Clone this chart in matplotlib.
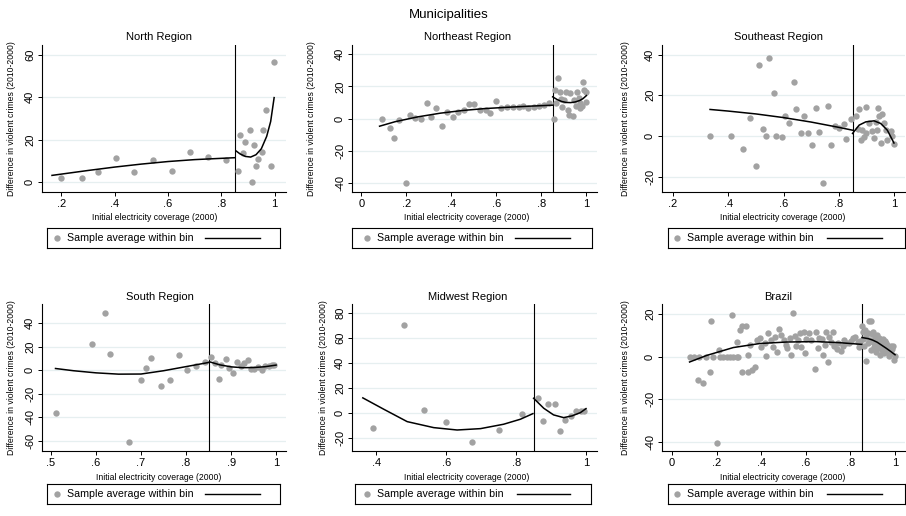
import matplotlib
matplotlib.use("Agg")
import matplotlib.pyplot as plt

plt.rcParams['font.family'] = ['Liberation Sans', 'DejaVu Sans']

W, H = 906, 516
GRAY = '#a2a2a2'
GRID = '#e6eff0'
CUTOFF = 0.85

# ---- bin averages and fitted curves ----
north_x = [0.199, 0.277, 0.338, 0.405, 0.473, 0.543, 0.614, 0.681, 0.749, 0.819,
           0.861, 0.870, 0.883, 0.890, 0.908, 0.916, 0.924, 0.930, 0.939, 0.953, 0.958, 0.969, 0.986, 0.996]
north_y = [2.3, 2.3, 5.0, 11.6, 5.0, 10.5, 5.2, 14.5, 12.0, 10.6,
           5.5, 22.2, 13.6, 19.1, 24.8, 0.0, 17.5, 7.7, 10.9, 14.1, 24.5, 34.2, 7.7, 56.7]
north_fit_lx = [0.165, 0.3, 0.4, 0.5, 0.6, 0.7, 0.8, 0.85]
north_fit_ly = [3.3, 5.6, 7.2, 8.6, 9.8, 10.7, 11.3, 11.6]
north_fit_rx = [0.855, 0.87, 0.89, 0.91, 0.93, 0.95, 0.97, 0.985, 0.998]
north_fit_ry = [14.8, 13.4, 12.2, 11.9, 13.0, 15.8, 21.6, 28.6, 39.8]

ne_x = [0.092, 0.126, 0.147, 0.169, 0.200, 0.215, 0.240, 0.265, 0.292, 0.311, 0.333, 0.359, 0.381, 0.407,
        0.428, 0.455, 0.477, 0.502, 0.529, 0.553, 0.573, 0.599, 0.621, 0.647, 0.673, 0.699, 0.719, 0.741,
        0.766, 0.788, 0.810, 0.833,
        0.855, 0.859, 0.866, 0.873, 0.881, 0.887, 0.892, 0.900, 0.910, 0.917, 0.923, 0.929, 0.939, 0.947,
        0.953, 0.959, 0.965, 0.970, 0.973, 0.981, 0.985, 0.991, 0.996, 1.000]
ne_y = [0, -5.8, -12.1, -1, -40, 1.9, 0.6, 0, 9.4, 1, 6.3, -4.8, 4.2, 1,
        4.2, 5.6, 9, 9, 5.2, 5.2, 3.5, 10.8, 6.7, 7.3, 7.3, 6.9, 7.7, 6.3,
        6.9, 7.7, 8.3, 9.4,
        0, 17.7, 9.5, 25.4, 16.7, 12, 6.9, 11.5, 16.7, 5.2, 2.1, 16, 1.5, 11.5,
        8, 16.7, 12.5, 9.4, 6.3, 7.7, 22.9, 17.7, 10.4, 16.7]
ne_fit_lx = [0.081, 0.15, 0.25, 0.35, 0.45, 0.55, 0.65, 0.75, 0.85]
ne_fit_ly = [-4.8, -2.0, 1.0, 3.3, 5.0, 6.2, 7.0, 7.7, 8.3]
ne_fit_rx = [0.85, 0.87, 0.89, 0.91, 0.93, 0.95, 0.97, 0.985, 1.0]
ne_fit_ry = [13.5, 11.8, 10.6, 10.0, 9.9, 10.3, 11.2, 12.4, 14.3]

se_x = [0.334, 0.410, 0.454, 0.478, 0.499, 0.511, 0.526, 0.535, 0.547, 0.565, 0.574, 0.593, 0.606, 0.619,
        0.637, 0.646, 0.662, 0.676, 0.690, 0.704, 0.716, 0.730, 0.742, 0.760, 0.772, 0.788, 0.802, 0.818,
        0.828, 0.844,
        0.862, 0.868, 0.874, 0.880, 0.886, 0.892, 0.898, 0.900, 0.910, 0.922, 0.928, 0.934, 0.940, 0.944,
        0.946, 0.952, 0.956, 0.964, 0.970, 0.976, 0.988, 0.994, 1.000]
se_y = [0, 0, -6.6, 8.9, -14.8, 34.9, 3.6, 0, 38.5, 20.9, 0, -0.5, 9.9, 6.1,
        26.3, 13.2, 1.6, 9.9, 1.2, -4.3, 13.8, 2, -23.2, 14.6, -4.6, 4.9, 3.9, 5.8,
        -1.6, 8.1,
        9.7, 3.6, 13, -2.1, 3.1, -0.5, 14, 1.5, 6.1, 2.5, -0.8, 6.9, 2.8, 13.5,
        9.7, -3.5, 10.7, 6.1, 3.1, -1.8, 2.5, -0.2, -3.8]
se_fit_lx = [0.334, 0.4, 0.5, 0.6, 0.7, 0.75, 0.8, 0.85]
se_fit_ly = [13.0, 12.2, 10.8, 9.0, 6.8, 5.5, 4.2, 2.8]
se_fit_rx = [0.85, 0.874, 0.898, 0.928, 0.952, 0.976, 1.0]
se_fit_ry = [1.2, 5.3, 6.9, 7.4, 6.1, 2.8, -3.5]

south_x = [0.512, 0.590, 0.621, 0.632, 0.674, 0.699, 0.711, 0.722, 0.745, 0.765, 0.784, 0.802, 0.822, 0.841,
           0.856, 0.864, 0.873, 0.878, 0.888, 0.896, 0.904, 0.913, 0.921, 0.928, 0.937, 0.944, 0.952, 0.959,
           0.969, 0.976, 0.984, 0.991, 0.996]
south_y = [-36.1, 22.2, 48.6, 13.6, -60.8, -8.5, 1.4, 10.2, -13.4, -8.5, 13.1, 0, 3.1, 6.8,
           10.8, 6, -7.1, 4.3, 9.7, 1.7, -2.8, 6.5, 3.7, 6, 8.5, 0.9, 0.9, 2.8,
           0.3, 3.1, 3.7, 4.3, 4.5]
south_fit_lx = [0.51, 0.55, 0.6, 0.65, 0.7, 0.75, 0.8, 0.85]
south_fit_ly = [1.4, -0.5, -2.3, -3.4, -3.3, -0.5, 3.0, 6.5]
south_fit_rx = [0.852, 0.875, 0.9, 0.925, 0.95, 0.975, 1.0]
south_fit_ry = [7.1, 4.5, 2.8, 2.1, 2.2, 2.9, 4.3]

mw_x = [0.390, 0.478, 0.535, 0.599, 0.673, 0.752, 0.817,
        0.862, 0.877, 0.891, 0.910, 0.925, 0.941, 0.958, 0.972, 0.987, 0.995]
mw_y = [-11.8, 70.6, 2.9, -6.7, -22.7, -13.4, -0.8,
        12.3, -6.4, 7.8, 7.8, -14.2, -5.1, -2.1, 1.9, 1.9, 1.9]
mw_fit_lx = [0.361, 0.421, 0.488, 0.564, 0.631, 0.698, 0.764, 0.812, 0.848]
mw_fit_ly = [12.3, 3.2, -6.7, -11.5, -13.4, -12.3, -8.8, -4.8, -0.3]
mw_fit_rx = [0.850, 0.879, 0.907, 0.936, 0.960, 0.984, 1.000]
mw_fit_ry = [12.0, 4.0, -1.3, -3.5, -2.1, 0.5, 3.7]

br_x = [0.079, 0.100, 0.123, 0.119, 0.141, 0.153, 0.171, 0.174, 0.186, 0.200, 0.212, 0.215, 0.230, 0.245,
        0.260, 0.267, 0.275, 0.290, 0.290, 0.297, 0.305, 0.312, 0.316, 0.331, 0.342, 0.342, 0.352, 0.357,
        0.371, 0.383, 0.394, 0.400, 0.416, 0.420, 0.431, 0.446, 0.455, 0.461, 0.471, 0.480, 0.490, 0.501,
        0.510, 0.517, 0.527, 0.535, 0.542, 0.550, 0.557, 0.565, 0.575, 0.580, 0.590, 0.595, 0.602, 0.614,
        0.624, 0.639, 0.646, 0.655, 0.661, 0.673, 0.676, 0.685, 0.691, 0.698, 0.705, 0.713, 0.720, 0.728,
        0.738, 0.743, 0.758, 0.765, 0.772, 0.780, 0.795, 0.802, 0.810, 0.822, 0.832, 0.840, 0.845,
        0.852, 0.855, 0.858, 0.862, 0.866, 0.869, 0.872, 0.877, 0.880, 0.884, 0.887, 0.890, 0.892, 0.895,
        0.899, 0.902, 0.905, 0.908, 0.911, 0.914, 0.917, 0.920, 0.923, 0.926, 0.929, 0.932, 0.935, 0.938,
        0.941, 0.944, 0.947, 0.950, 0.953, 0.956, 0.959, 0.962, 0.965, 0.968, 0.971, 0.974, 0.977, 0.980,
        0.984, 0.988, 0.992, 0.996, 0.999]
br_y = [0, 0, 0, -11, -12.2, 0, -7, 16.6, 0, -40.5, 3.2, 0, 0, 0,
        0, 19.7, 0, 7.1, 0, 0, 12.6, -7.1, 14.5, 14.5, 0.8, -7.1, 5.5, -6.3,
        -4.7, 7.9, 8.7, 4.5, 6.3, 0.5, 11, 7.9, 4.5, 9.5, 2.4, 13.1, 10.3, 7.9,
        5.5, 3.9, 8.7, 1, 20.5, 9.9, 5, 7.9, 11, 4.5, 11.8, 1.5, 8.5, 11,
        7.9, -5.7, 11.8, 4, 9, 8.5, 0.8, 5.5, 11.4, -2.4, 9.5, 6.9, 11.8, 5,
        3.5, 6.5, 2.7, 5, 7.9, 6.3, 6.3, 7.4, 8.7, 9.3, 7, 4.7, 7.5,
        14.5, 11.8, 8.5, 5, 12.5, -2, 9.5, 6.6, 11, 16.9, 8, 16.9, 3, 10.5,
        7, 11.5, 4.5, 9.5, 6, 2, 10, 7.5, 4, 9, 5.5, 1, 8, 6,
        3, 8.5, 5, 1.5, 7.5, 4, 6.5, 2.5, 5.5, 3.5, 0.5, 4.5, 2.5, 5,
        1.5, 3.5, 5, -1.6, 0.5]
br_fit_lx = [0.079, 0.156, 0.275, 0.394, 0.513, 0.646, 0.75, 0.85]
br_fit_ly = [-2.5, 0.6, 4.3, 6.2, 6.9, 7.1, 6.6, 5.8]
br_fit_rx = [0.852, 0.88, 0.9, 0.92, 0.94, 0.96, 0.98, 1.0]
br_fit_ry = [9.0, 8.5, 7.8, 6.8, 5.4, 4.0, 2.5, 0.9]

# ---- layout (pixels) ----
col_l = [42, 352, 662]
col_r = [286, 597, 905]
row_t = [45, 304]
row_b = [192, 451]

panels = [
    dict(title="North Region", x=north_x, y=north_y, fl=(north_fit_lx, north_fit_ly), fr=(north_fit_rx, north_fit_ry),
         xlim=(0.1275, 1.0425), ylim=(-4.5, 64.5), xt=[0.2, 0.4, 0.6, 0.8, 1], yt=[0, 20, 40, 60],
         r=0, c=0, tx=159, ylx=12, xlx=155, leg=(47, 280, 67, 205, 260)),
    dict(title="Northeast Region", x=ne_x, y=ne_y, fl=(ne_fit_lx, ne_fit_ly), fr=(ne_fit_rx, ne_fit_ry),
         xlim=(-0.0415, 1.047), ylim=(-45.8, 45.8), xt=[0, 0.2, 0.4, 0.6, 0.8, 1], yt=[-40, -20, 0, 20, 40],
         r=0, c=1, tx=468, ylx=312, xlx=467, leg=(352, 592, 377, 515, 570)),
    dict(title="Southeast Region", x=se_x, y=se_y, fl=(se_fit_lx, se_fit_ly), fr=(se_fit_rx, se_fit_ry),
         xlim=(0.16, 1.04), ylim=(-27.6, 44.7), xt=[0.2, 0.4, 0.6, 0.8, 1], yt=[-20, 0, 20, 40],
         r=0, c=2, tx=778, ylx=626, xlx=783, leg=(668, 905, 687, 827, 882)),
    dict(title="South Region", x=south_x, y=south_y, fl=(south_fit_lx, south_fit_ly), fr=(south_fit_rx, south_fit_ry),
         xlim=(0.48, 1.022), ylim=(-68.7, 56.2), xt=[0.5, 0.6, 0.7, 0.8, 0.9, 1], yt=[-60, -40, -20, 0, 20, 40],
         r=1, c=0, tx=160, ylx=12, xlx=159, leg=(47, 280, 67, 205, 260)),
    dict(title="Midwest Region", x=mw_x, y=mw_y, fl=(mw_fit_lx, mw_fit_ly), fr=(mw_fit_rx, mw_fit_ry),
         xlim=(0.33, 1.0315), ylim=(-30.2, 87.4), xt=[0.4, 0.6, 0.8, 1], yt=[-20, 0, 20, 40, 60, 80],
         r=1, c=1, tx=468, ylx=324, xlx=467, leg=(355, 591, 377, 517, 570)),
    dict(title="Brazil", x=br_x, y=br_y, fl=(br_fit_lx, br_fit_ly), fr=(br_fit_rx, br_fit_ry),
         xlim=(-0.0446, 1.0446), ylim=(-44.4, 24.8), xt=[0, 0.2, 0.4, 0.6, 0.8, 1], yt=[-40, -20, 0, 20],
         r=1, c=2, tx=778, ylx=625, xlx=783, leg=(668, 905, 687, 827, 882)),
]

title_y = [37, 297]
xlab_y = [217, 477]
leg_y = [(228, 248), (484, 504)]


def stata_fmt(v):
    s = f"{v:g}"
    if s.startswith("0."):
        s = s[1:]
    elif s.startswith("-0."):
        s = "-" + s[2:]
    return s


def fx(px):
    return px / W


def fy(py):
    return 1 - py / H


fig = plt.figure(figsize=(W / 100, H / 100), dpi=100)
fig.text(fx(449), fy(15), "Municipalities", ha='center', va='center', fontsize=9.5)

for p in panels:
    l, r = col_l[p['c']], col_r[p['c']]
    t, b = row_t[p['r']], row_b[p['r']]
    ax = fig.add_axes([fx(l), fy(b), (r - l) / W, (b - t) / H])
    ax.scatter(p['x'], p['y'], s=21, color=GRAY, linewidths=0, zorder=3)
    ax.plot(*p['fl'], color='black', lw=1.1, zorder=4)
    ax.plot(*p['fr'], color='black', lw=1.1, zorder=4)
    ax.axvline(CUTOFF, color='black', lw=0.8, zorder=2)
    ax.set_xlim(*p['xlim'])
    ax.set_ylim(*p['ylim'])
    ax.set_xticks(p['xt'])
    ax.set_xticklabels([stata_fmt(v) for v in p['xt']])
    ax.set_yticks(p['yt'])
    ax.set_yticklabels([stata_fmt(v) for v in p['yt']], rotation=90, va='center')
    ax.yaxis.grid(True, color=GRID, lw=0.9)
    ax.set_axisbelow(True)
    for side in ('top', 'right'):
        ax.spines[side].set_visible(False)
    for side in ('left', 'bottom'):
        ax.spines[side].set_linewidth(0.8)
        ax.spines[side].set_color('black')
    ax.tick_params(direction='out', length=3, width=0.7, labelsize=8, pad=2)

    row = p['r']
    fig.text(fx(p['tx']), fy(title_y[row]), p['title'], ha='center', va='center', fontsize=8)
    fig.text(fx(p['ylx']), fy((t + b) / 2), "Difference in violent crimes (2010-2000)",
             rotation=90, ha='center', va='center', fontsize=6.2)
    fig.text(fx(p['xlx']), fy(xlab_y[row]), "Initial electricity coverage (2000)",
             ha='center', va='center', fontsize=6.2)

    # legend box
    bl, br_, txt_x, ln0, ln1 = p['leg']
    lt, lb = leg_y[row]
    lax = fig.add_axes([fx(bl), fy(lb), (br_ - bl) / W, (lb - lt) / H])
    lax.set_xlim(bl, br_)
    lax.set_ylim(0, 1)
    lax.set_xticks([])
    lax.set_yticks([])
    for s in lax.spines.values():
        s.set_linewidth(0.8)
        s.set_color('black')
    lax.scatter([txt_x - 10], [0.5], s=21, color=GRAY, linewidths=0)
    lax.text(txt_x, 0.5, "Sample average within bin", ha='left', va='center', fontsize=7.7)
    lax.plot([ln0, ln1], [0.5, 0.5], color='black', lw=1.0)

fig.savefig("out.png", dpi=100)
